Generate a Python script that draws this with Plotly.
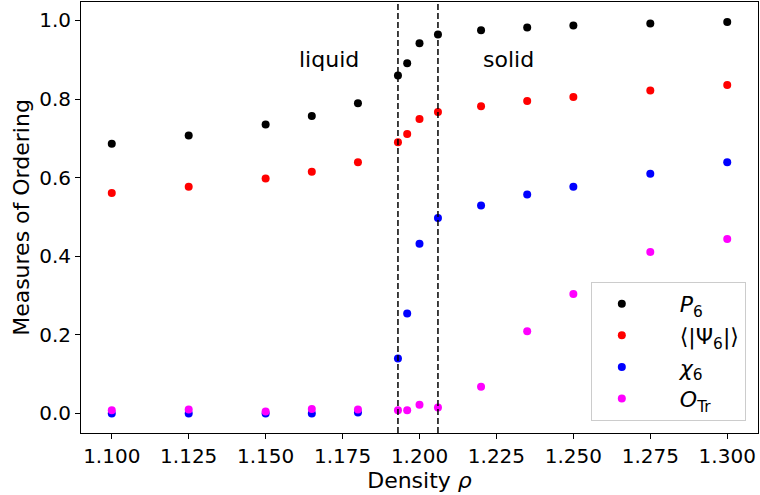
import plotly.graph_objects as go

density = [1.100, 1.125, 1.150, 1.165, 1.180, 1.193, 1.196, 1.200, 1.206,
           1.220, 1.235, 1.250, 1.275, 1.300]
p6 = [0.686, 0.707, 0.735, 0.757, 0.789, 0.860, 0.891, 0.942, 0.964,
      0.975, 0.982, 0.987, 0.992, 0.996]
psi6 = [0.561, 0.577, 0.598, 0.615, 0.639, 0.690, 0.711, 0.749, 0.767,
        0.782, 0.795, 0.805, 0.822, 0.836]
chi6 = [0.000, 0.000, 0.000, 0.000, 0.002, 0.140, 0.254, 0.432, 0.497,
        0.529, 0.557, 0.577, 0.610, 0.639]
otr = [0.008, 0.010, 0.005, 0.011, 0.010, 0.008, 0.008, 0.022, 0.015,
       0.068, 0.209, 0.304, 0.411, 0.444]

series_names = ["<i>P</i><sub>6</sub>", "⟨|Ψ<sub>6</sub>|⟩",
                "<i>χ</i><sub>6</sub>", "<i>O</i><sub>Tr</sub>"]
series_colors = ["black", "red", "blue", "magenta"]

transition_densities = [1.193, 1.206]
phase_labels = ["liquid", "solid"]
phase_label_x = [1.1707, 1.229]
phase_label_y = [0.90, 0.90]

x_ticks = [1.100, 1.125, 1.150, 1.175, 1.200, 1.225, 1.250, 1.275, 1.300]
y_ticks = [0.0, 0.2, 0.4, 0.6, 0.8, 1.0]

font_family = "DejaVu Sans, sans-serif"
legend_pad = "&nbsp;" * 4

fig = go.Figure()
for name, vals, col in zip(series_names, [p6, psi6, chi6, otr], series_colors):
    fig.add_trace(go.Scatter(
        x=density, y=vals, mode="markers", name=legend_pad + name,
        marker=dict(color=col, size=8, line=dict(width=0)),
    ))

for xv in transition_densities:
    fig.add_shape(type="line", xref="x", yref="paper", x0=xv, x1=xv, y0=0, y1=1,
                  line=dict(color="black", width=1.5, dash="6px,3px"), layer="above")

for txt, xv, yv in zip(phase_labels, phase_label_x, phase_label_y):
    fig.add_annotation(x=xv, y=yv, xref="x", yref="y", text=txt, showarrow=False,
                       font=dict(size=22, color="black", family=font_family))

axis_common = dict(
    showline=True, mirror=True, linecolor="black", linewidth=1,
    ticks="outside", ticklen=5, tickwidth=1, tickcolor="black",
    showgrid=False, zeroline=False,
    tickfont=dict(size=20, color="black", family=font_family),
)

fig.update_layout(
    width=760, height=495,
    margin=dict(l=81, r=2, t=2, b=62),
    plot_bgcolor="white", paper_bgcolor="white",
    font=dict(family=font_family, color="black"),
    xaxis=dict(range=[1.09, 1.31], tickvals=x_ticks,
               ticktext=[f"{v:.3f}" for v in x_ticks],
               title=dict(text="Density <i>ρ</i>", font=dict(size=22), standoff=1),
               **axis_common),
    yaxis=dict(range=[-0.0499, 1.047], tickvals=y_ticks,
               ticktext=[f"{v:.1f}" for v in y_ticks],
               title=dict(text="Measures of Ordering", font=dict(size=22), standoff=3),
               **axis_common),
    legend=dict(x=0.982, y=0.028, xanchor="right", yanchor="bottom",
                bgcolor="rgba(255,255,255,0.8)", bordercolor="#cccccc", borderwidth=1,
                font=dict(size=22, family=font_family), itemwidth=50,
                tracegroupgap=0),
    showlegend=True,
)

fig.write_html("out.html")
